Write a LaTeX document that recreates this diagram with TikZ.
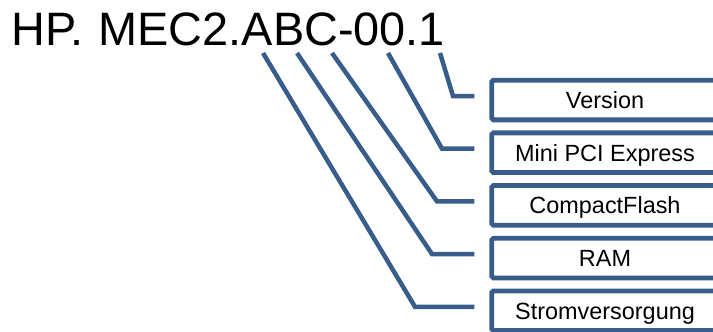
\documentclass[tikz,border=0pt]{standalone}
\usepackage{fontspec}
\setmainfont{Liberation Sans}
\usepackage{xcolor}
\usetikzlibrary{calc}
\definecolor{LeaderBlue}{HTML}{385D8A}
\definecolor{CodeBlack}{HTML}{000000}
\tikzset{
    codetext/.style={
        text=CodeBlack,
        font=\fontsize{40}{48}\selectfont,
        inner sep=0pt
    },
    partbox/.style={
        draw=LeaderBlue,
        line width=0.145cm,
        rounded corners=1.5pt,
        minimum width=6.8cm,
        minimum height=1.19cm,
        text height=0.5cm,
        text depth=0cm,
        text=CodeBlack,
        font=\fontsize{20}{24}\selectfont,
        align=center,
        inner sep=0pt
    },
    leader/.style={
        draw=LeaderBlue,
        line width=0.135cm
    }
}
\begin{document}
\begin{tikzpicture}[x=0.03cm, y=-0.03cm]
        \useasboundingbox (0,0) rectangle (713,331);
        \clip (0,0) rectangle (713,331);

        % Type code
        \node[codetext, anchor=base west] (code) at (11,45) {HP.\hspace{0.05em} MEC2.ABC-00.1};

        % Part boxes
        \node[partbox] (ver) at (605,100) {Version};
        \node[partbox] (mpci) at (605,152.7) {Mini PCI Express};
        \node[partbox] (cf) at (605,205.4) {CompactFlash};
        \node[partbox] (ram) at (605,258.1) {RAM};
        \node[partbox] (strom) at (605,310.8) {Stromversorgung};

        % Start points under the code
        \coordinate (sVer) at (440,53);
        \coordinate (sMpci) at (388,53);
        \coordinate (sCf) at (332,53);
        \coordinate (sRam) at (297,53);
        \coordinate (sStrom) at (263,53);

        % Leader lines
        \draw[leader] (sVer) -- (453,96) -- ($(ver.west)+(-15,-4)$);
        \draw[leader] (sMpci) -- (442,148.7) -- ($(mpci.west)+(-15,-4)$);
        \draw[leader] (sCf) -- (437,201.4) -- ($(cf.west)+(-15,-4)$);
        \draw[leader] (sRam) -- (432,254.1) -- ($(ram.west)+(-15,-4)$);
        \draw[leader] (sStrom) -- (415,306.8) -- ($(strom.west)+(-15,-4)$);
    \end{tikzpicture}
\end{document}
